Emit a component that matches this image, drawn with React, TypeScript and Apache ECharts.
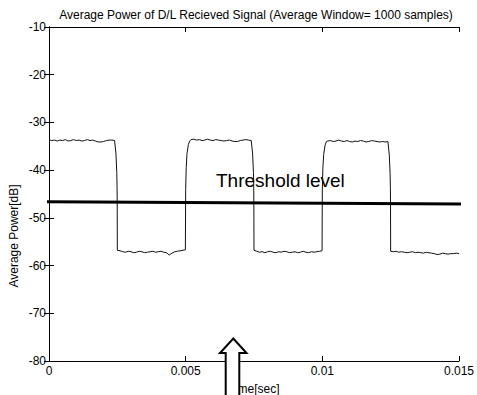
import React, { useEffect, useRef } from "react";
import * as echarts from "echarts";

const TITLE = "Average Power of D/L Recieved Signal (Average Window= 1000 samples)";
const X_NAME = "Time[sec]";
const Y_NAME = "Average Power[dB]";
const THRESHOLD_LABEL = "Threshold level";

const X_MIN = 0;
const X_MAX = 0.015;
const X_INTERVAL = 0.005;
const Y_MIN = -80;
const Y_MAX = -10;
const Y_INTERVAL = 10;

// Average power curve (time in seconds, power in dB)
const high1Time = [0, 0.0001, 0.0002, 0.0003, 0.0004, 0.0005, 0.0006, 0.0007, 0.0008, 0.0009, 0.001, 0.0011, 0.0012, 0.0013, 0.0014, 0.0015, 0.0016, 0.0017, 0.0018, 0.0019, 0.002, 0.0021, 0.0022, 0.0023, 0.0024, 0.00245, 0.00248, 0.00249, 0.002495];
const high1Power = [-33.6, -33.8, -33.7, -33.9, -33.7, -33.8, -33.6, -33.9, -33.8, -33.6, -33.8, -33.7, -33.9, -33.8, -33.6, -33.8, -33.7, -33.9, -34.1, -34.1, -34.0, -33.8, -33.7, -33.7, -33.8, -36.6, -40.5, -43.5, -46.5];

const low1Time = [0.0025, 0.0026, 0.0027, 0.0028, 0.0029, 0.003, 0.0031, 0.0032, 0.0033, 0.0034, 0.0035, 0.0036, 0.0037, 0.0038, 0.0039, 0.004, 0.0041, 0.0042, 0.0043, 0.0044, 0.0045, 0.0046, 0.0047, 0.0048, 0.00499];
const low1Power = [-56.8, -56.9, -57.1, -57.2, -57.0, -57.1, -57.3, -57.2, -57.0, -57.1, -57.3, -57.2, -57.1, -57.0, -57.2, -57.1, -57.0, -57.2, -57.3, -57.8, -57.4, -57.1, -57.0, -56.9, -56.7];

const high2Time = [0.005, 0.00502, 0.00505, 0.0051, 0.00515, 0.0052, 0.0053, 0.0054, 0.0055, 0.0056, 0.0057, 0.0058, 0.0059, 0.006, 0.0061, 0.0062, 0.0063, 0.0064, 0.0065, 0.0066, 0.0067, 0.0068, 0.0069, 0.007, 0.0071, 0.0072, 0.0073, 0.0074, 0.00745, 0.00748, 0.00749, 0.007495];
const high2Power = [-44.0, -39.5, -36.5, -34.6, -33.9, -33.6, -33.5, -33.7, -33.6, -33.8, -33.7, -33.5, -33.7, -33.8, -33.6, -33.7, -33.8, -33.9, -33.8, -33.7, -33.9, -34.0, -34.0, -33.8, -33.7, -33.6, -33.7, -33.8, -36.6, -40.5, -43.5, -46.5];

const low2Time = [0.0075, 0.0076, 0.0077, 0.0078, 0.0079, 0.008, 0.0081, 0.0082, 0.0083, 0.0084, 0.0085, 0.0086, 0.0087, 0.0088, 0.0089, 0.009, 0.0091, 0.0092, 0.0093, 0.0094, 0.0095, 0.0096, 0.0097, 0.0098, 0.0099, 0.00999];
const low2Power = [-56.8, -57.0, -57.2, -57.1, -57.3, -57.1, -57.0, -57.2, -57.3, -57.1, -57.2, -57.0, -57.1, -57.3, -57.2, -57.1, -57.3, -57.2, -57.0, -57.2, -57.3, -57.1, -57.2, -57.1, -57.0, -56.9];

const high3Time = [0.01, 0.01002, 0.01005, 0.0101, 0.01015, 0.0102, 0.0103, 0.0104, 0.0105, 0.0106, 0.0107, 0.0108, 0.0109, 0.011, 0.0111, 0.0112, 0.0113, 0.0114, 0.0115, 0.0116, 0.0117, 0.0118, 0.0119, 0.012, 0.0121, 0.0122, 0.0123, 0.0124, 0.01245, 0.01248, 0.01249, 0.012495];
const high3Power = [-44.0, -39.6, -36.7, -34.8, -34.0, -33.9, -33.8, -34.0, -33.9, -33.7, -33.9, -34.0, -33.8, -34.0, -34.1, -33.9, -34.0, -33.8, -33.9, -34.1, -34.0, -33.8, -33.9, -34.0, -34.1, -34.0, -34.1, -34.0, -36.8, -40.7, -43.7, -46.7];

const low3Time = [0.0125, 0.0126, 0.0127, 0.0128, 0.0129, 0.013, 0.0131, 0.0132, 0.0133, 0.0134, 0.0135, 0.0136, 0.0137, 0.0138, 0.0139, 0.014, 0.0141, 0.0142, 0.0143, 0.0144, 0.0145, 0.0146, 0.0147, 0.0148, 0.0149, 0.015];
const low3Power = [-57.0, -57.1, -57.0, -57.2, -57.1, -57.2, -57.3, -57.2, -57.1, -57.3, -57.2, -57.3, -57.4, -57.2, -57.3, -57.4, -57.5, -57.7, -57.6, -57.4, -57.5, -57.6, -57.5, -57.5, -57.4, -57.5];

// Threshold level line (start and end)
const thresholdTime = [-0.0001, 0.0151];
const thresholdPower = [-46.6, -47.1];

const FONT = "'Liberation Sans', Arial, sans-serif";

function zip(t: number[], v: number[]) {
  return t.map((x, i) => [x, v[i]]);
}

export default function App() {
  const ref = useRef<HTMLDivElement>(null);

  useEffect(() => {
    if (!ref.current) return;
    const chart = echarts.init(ref.current, null, { renderer: "svg" });

    const signal = [
      ...zip(high1Time, high1Power),
      ...zip(low1Time, low1Power),
      ...zip(high2Time, high2Power),
      ...zip(low2Time, low2Power),
      ...zip(high3Time, high3Power),
      ...zip(low3Time, low3Power),
    ];

    const axisLine = { show: true, lineStyle: { color: "#000", width: 1 } };
    const axisTick = { show: true, inside: true, length: 5, lineStyle: { color: "#000" } };

    chart.setOption({
      animation: false,
      backgroundColor: "#fff",
      grid: { left: 49, right: 15.5, top: 27, bottom: 34, containLabel: false },
      xAxis: [
        {
          type: "value",
          min: X_MIN,
          max: X_MAX,
          interval: X_INTERVAL,
          position: "bottom",
          axisLine,
          axisTick,
          splitLine: { show: false },
          axisLabel: { color: "#000", fontFamily: FONT, fontSize: 12, margin: 4 },
        },
        {
          type: "value",
          min: X_MIN,
          max: X_MAX,
          interval: X_INTERVAL,
          position: "top",
          axisLine,
          axisTick,
          splitLine: { show: false },
          axisLabel: { show: false },
        },
      ],
      yAxis: [
        {
          type: "value",
          min: Y_MIN,
          max: Y_MAX,
          interval: Y_INTERVAL,
          position: "left",
          axisLine,
          axisTick,
          splitLine: { show: false },
          axisLabel: { color: "#000", fontFamily: FONT, fontSize: 12, margin: 3 },
        },
        {
          type: "value",
          min: Y_MIN,
          max: Y_MAX,
          interval: Y_INTERVAL,
          position: "right",
          axisLine,
          axisTick,
          splitLine: { show: false },
          axisLabel: { show: false },
        },
      ],
      series: [
        {
          type: "line",
          data: signal,
          showSymbol: false,
          lineStyle: { color: "#111", width: 1 },
          xAxisIndex: 0,
          yAxisIndex: 0,
        },
        {
          type: "line",
          data: zip(thresholdTime, thresholdPower),
          showSymbol: false,
          clip: false,
          lineStyle: { color: "#000", width: 3 },
          xAxisIndex: 0,
          yAxisIndex: 0,
        },
      ],
      graphic: [
        {
          type: "text",
          x: 256,
          y: 15,
          style: { text: TITLE, font: `12px ${FONT}`, fill: "#000", textAlign: "center", textVerticalAlign: "middle" },
        },
        {
          type: "text",
          x: 14,
          y: 236,
          rotation: Math.PI / 2,
          style: { text: Y_NAME, font: `12px ${FONT}`, fill: "#000", textAlign: "center", textVerticalAlign: "middle" },
        },
        {
          type: "text",
          x: 253.7,
          y: 389,
          style: { text: X_NAME, font: `12px ${FONT}`, fill: "#000", textAlign: "center", textVerticalAlign: "middle" },
        },
        {
          type: "text",
          x: 216,
          y: 180,
          style: { text: THRESHOLD_LABEL, font: `19px ${FONT}`, fill: "#000", textAlign: "left", textVerticalAlign: "middle" },
        },
        {
          type: "polygon",
          z: 100,
          shape: {
            points: [
              [233.3, 338.5],
              [246.5, 353],
              [239.3, 353],
              [239.3, 397],
              [225.7, 397],
              [225.7, 353],
              [220, 353],
            ],
          },
          style: { fill: "#fff", stroke: "#000", lineWidth: 2 },
        },
      ],
    });

    return () => chart.dispose();
  }, []);

  return (
    <div
      ref={ref}
      style={{ position: "absolute", left: 0, top: 0, width: 477, height: 395, background: "#fff" }}
    />
  );
}
